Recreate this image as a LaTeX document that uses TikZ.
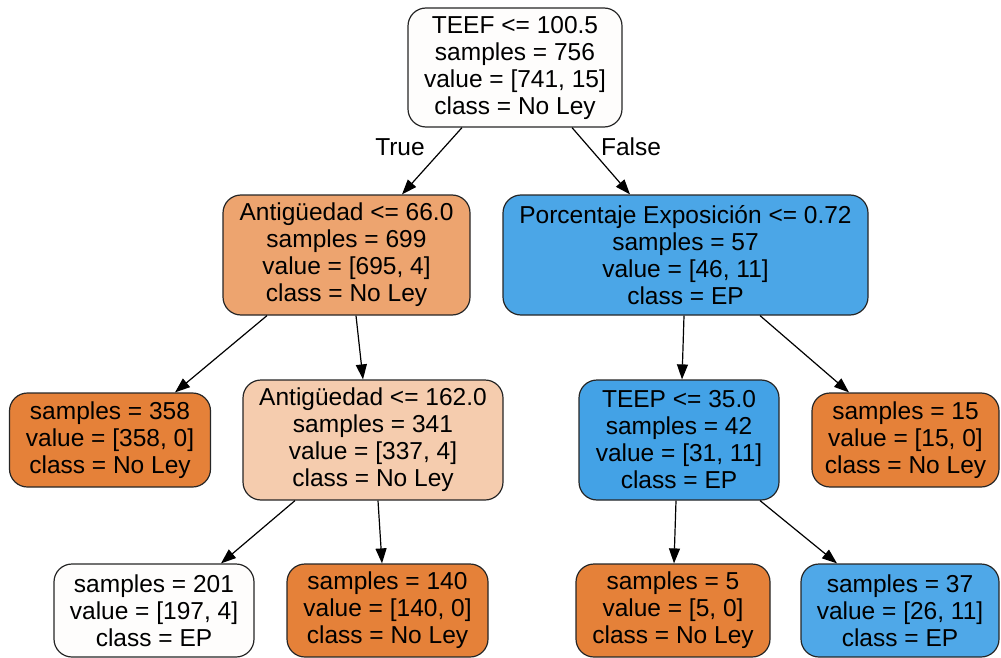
\documentclass[tikz,border=0pt]{standalone}
\usepackage{fontspec}
\setmainfont{Liberation Sans}
\usetikzlibrary{arrows.meta,calc}
\definecolor{dorange}{HTML}{E58139}
\definecolor{morange}{HTML}{EDA46F}
\definecolor{lorange}{HTML}{F5CCAE}
\definecolor{wnode}{HTML}{FEFDFC}
\definecolor{blue1}{HTML}{4BA6E7}
\definecolor{blue2}{HTML}{43A2E6}
\definecolor{blue3}{HTML}{4FA8E8}
\tikzset{
  tnode/.style={draw=black!85, line width=1.2pt, rounded corners=18pt, align=center,
    inner sep=0pt, font=\fontsize{24.5}{27}\selectfont},
  edge/.style={line width=1.2pt, -{Triangle[length=15pt,width=11pt]}},
  elabel/.style={font=\fontsize{24.5}{27}\selectfont, inner sep=0pt}
}
\begin{document}
\begin{tikzpicture}[x=1pt,y=-1pt]
\useasboundingbox (0,0) rectangle (1001,658);
\node[tnode, fill=wnode, minimum width=214pt, minimum height=119pt] (root) at (515,67.5)
  {TEEF <= 100.5\\samples = 756\\value = [741, 15]\\class = No Ley};
\node[tnode, fill=morange, minimum width=247pt, minimum height=120pt] (a66) at (346.5,255)
  {Antigüedad <= 66.0\\samples = 699\\value = [695, 4]\\class = No Ley};
\node[tnode, fill=blue1, minimum width=365pt, minimum height=120pt] (pe) at (685.5,255)
  {Porcentaje Exposición <= 0.72\\samples = 57\\value = [46, 11]\\class = EP};
\node[tnode, fill=dorange, minimum width=201pt, minimum height=94pt] (n358) at (110,440)
  {samples = 358\\value = [358, 0]\\class = No Ley};
\node[tnode, fill=lorange, minimum width=260pt, minimum height=120pt] (a162) at (373,440)
  {Antigüedad <= 162.0\\samples = 341\\value = [337, 4]\\class = No Ley};
\node[tnode, fill=blue2, minimum width=200pt, minimum height=120pt] (teep) at (679,440)
  {TEEP <= 35.0\\samples = 42\\value = [31, 11]\\class = EP};
\node[tnode, fill=dorange, minimum width=187pt, minimum height=94pt] (n15) at (905.5,440)
  {samples = 15\\value = [15, 0]\\class = No Ley};
\node[tnode, fill=wnode, minimum width=200pt, minimum height=93pt] (n201) at (154,610.5)
  {samples = 201\\value = [197, 4]\\class = EP};
\node[tnode, fill=dorange, minimum width=201pt, minimum height=93pt] (n140) at (387.5,610.5)
  {samples = 140\\value = [140, 0]\\class = No Ley};
\node[tnode, fill=dorange, minimum width=194pt, minimum height=93pt] (n5) at (673,610.5)
  {samples = 5\\value = [5, 0]\\class = No Ley};
\node[tnode, fill=blue3, minimum width=198pt, minimum height=93pt] (n37) at (900,610.5)
  {samples = 37\\value = [26, 11]\\class = EP};
\draw[edge] ($(root.south)+(-53,0)$) -- ($(a66.north)+(55.5,0)$);
\draw[edge] ($(root.south)+(57,0)$) -- ($(pe.north)+(-55.5,0)$);
\node[elabel] (tl) at (400,147) {True};
\node[elabel] (fl) at (631,147) {False};
\draw[edge] ($(a66.south)+(-79.5,0)$) -- ($(n358.north)+(65,0)$);
\draw[edge] ($(a66.south)+(9.5,0)$) -- ($(a162.north)+(-10,0)$);
\draw[edge] ($(pe.south)+(-1.5,0)$) -- ($(teep.north)+(3,0)$);
\draw[edge] ($(pe.south)+(74.5,0)$) -- ($(n15.north)+(-56.5,0)$);
\draw[edge] ($(a162.south)+(-78,0)$) -- ($(n201.north)+(67,0)$);
\draw[edge] ($(a162.south)+(5,0)$) -- ($(n140.north)+(-5.5,0)$);
\draw[edge] ($(teep.south)+(-3,0)$) -- ($(n5.north)+(1,0)$);
\draw[edge] ($(teep.south)+(81,0)$) -- ($(n37.north)+(-63,0)$);
\end{tikzpicture}
\end{document}
